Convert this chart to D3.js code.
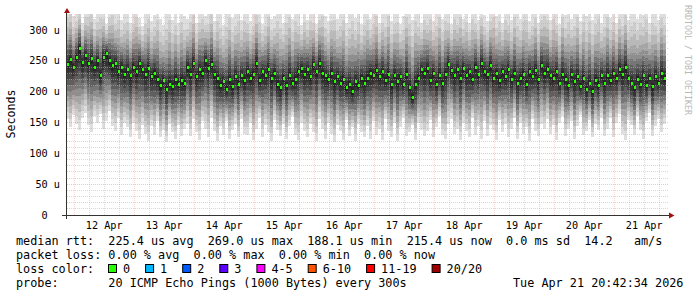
<!DOCTYPE html>
<html>
<head>
<meta charset="utf-8">
<script src="https://cdn.jsdelivr.net/npm/d3@7"></script>
<style>
html, body { margin: 0; padding: 0; background: #fff; }
svg { display: block; }
text { font-family: "DejaVu Sans Mono", monospace; fill: #000; }
</style>
</head>
<body>
<svg id="chart" width="697" height="297"></svg>
<script>
// median rtt per 72 min bin (microseconds)
const median = [
  244,252,240,256,270,248,258,246,254,240,250,226,256,262,250,242,246,232,240,228,
  236,226,240,232,246,236,228,238,224,230,220,210,218,204,212,208,220,212,218,214,
  240,228,246,224,236,230,250,238,244,228,222,210,216,204,220,208,224,212,226,218,
  232,222,228,246,218,232,226,236,222,230,212,206,222,210,226,214,220,232,238,228,
  236,224,244,232,246,230,226,220,230,216,224,214,220,206,212,200,216,210,222,214,
  222,230,226,234,224,232,218,228,212,226,216,224,212,228,206,190,212,222,236,230,
  238,218,230,212,226,214,228,244,234,226,236,222,238,226,232,220,240,228,246,232,
  228,242,222,230,218,232,224,236,220,230,214,222,228,212,232,224,234,220,242,230,
  236,226,222,232,214,228,220,210,228,216,224,208,222,204,214,200,218,210,226,214,
  226,218,230,222,236,228,240,222,214,206,220,212,226,210,222,208,224,214,230,222
];
// slowest ping per bin
const pingMax = [
  338,346,322,330,344,312,336,340,345,318,328,342,334,310,336,344,326,338,316,330,
  332,312,328,344,320,306,330,338,314,324,340,318,308,326,342,316,330,312,336,322,
  318,334,344,312,330,340,322,328,346,314,338,326,308,330,344,320,328,340,316,338,
  330,314,326,344,336,310,326,342,318,322,340,328,312,336,344,318,338,326,308,334,
  316,338,328,310,334,346,322,314,336,342,318,330,340,312,326,344,320,338,310,332,
  340,318,330,344,312,332,326,346,314,330,338,310,322,344,336,316,340,326,312,338,
  326,342,314,330,344,318,336,328,310,340,326,346,318,334,312,342,328,316,338,324,
  314,332,346,322,338,312,340,326,316,344,330,318,336,342,314,328,340,312,334,346,
  336,316,342,328,310,344,324,338,318,330,346,314,336,322,340,316,332,344,312,328,
  344,320,334,312,338,326,346,316,330,340,318,336,324,344,312,338,328,316,342,330
];
// fastest ping per bin
const pingMin = [
  156,142,162,148,138,158,166,146,134,160,150,164,140,152,168,144,136,158,130,150,
  142,126,150,136,124,146,132,120,144,130,152,126,138,118,148,134,124,146,128,140,
  148,128,156,134,122,152,140,126,158,136,120,144,130,152,124,138,148,126,156,132,
  130,150,122,140,158,126,146,134,120,154,138,128,148,124,144,160,130,122,150,136,
  126,148,134,120,156,140,124,150,132,118,146,136,122,154,128,142,120,148,134,126,
  144,124,152,130,140,122,156,136,126,150,120,142,158,128,134,146,122,150,138,128,
  136,154,126,142,160,130,124,148,156,132,140,122,150,136,126,158,130,144,124,152,
  128,146,138,122,154,134,148,126,140,158,124,150,132,142,120,156,136,128,148,140,
  156,132,146,122,150,160,128,140,152,124,144,162,130,136,154,126,148,138,158,128,
  140,158,126,150,164,132,122,154,146,130,160,138,124,152,166,128,144,156,134,148
];

const yTicks = [0, 50, 100, 150, 200, 250, 300];
const dayLabels = ["12 Apr", "13 Apr", "14 Apr", "15 Apr", "16 Apr",
                   "17 Apr", "18 Apr", "19 Apr", "20 Apr", "21 Apr"];
const lossNames = ["0", "1", "2", "3", "4-5", "6-10", "11-19", "20/20"];
const lossColors = ["#26ff00", "#00b8ff", "#0059ff", "#5e00ff", "#ff00ff", "#ff5500", "#ff0000", "#a10000"];
const statLines = [
  "median rtt:  225.4 us avg  269.0 us max  188.1 us min  215.4 us now  0.0 ms sd  14.2   am/s",
  "packet loss: 0.00 % avg  0.00 % max  0.00 % min  0.00 % now",
  "loss color:",
  "probe:       20 ICMP Echo Pings (1000 Bytes) every 300s"
];
const stampText = "Tue Apr 21 20:42:34 2026";

// time range and scales
const start = new Date(Date.UTC(2026, 3, 11, 20, 42, 34));
const end = new Date(Date.UTC(2026, 3, 21, 20, 42, 34));
const step = 72 * 60 * 1000;

const x = d3.scaleUtc().domain([start, end]).range([66, 666]);
const y = d3.scaleLinear().domain([0, 326]).range([215, 14]);

const svg = d3.select("#chart");

svg.append("defs").append("clipPath").attr("id", "plot")
  .append("rect").attr("x", 67).attr("y", 14).attr("width", 600).attr("height", 201);

// smoke: 10 bands per bin, outer light, inner dark
const sUp = [1, 0.8, 0.65, 0.52, 0.42, 0.33, 0.25, 0.17, 0.1, 0.05];
const sDn = [1, 0.88, 0.78, 0.68, 0.58, 0.48, 0.38, 0.28, 0.18, 0.08];
const greys = [222, 205, 185, 165, 142, 118, 95, 72, 52, 36];

const bands = [];
median.forEach((m, i) => {
  const t0 = new Date(start.getTime() + i * step);
  const t1 = new Date(start.getTime() + (i + 1) * step);
  sUp.forEach((s, k) => {
    bands.push({
      t0, t1, k,
      top: m + (pingMax[i] - m) * s,
      bot: m - (m - pingMin[i]) * sDn[k]
    });
  });
});

const g = svg.append("g").attr("clip-path", "url(#plot)");
g.selectAll("rect.smoke")
  .data(bands)
  .enter().append("rect")
  .attr("class", "smoke")
  .attr("x", d => x(d.t0))
  .attr("width", d => x(d.t1) - x(d.t0))
  .attr("y", d => y(d.top))
  .attr("height", d => y(d.bot) - y(d.top))
  .attr("fill", d => d3.rgb(greys[d.k], greys[d.k], greys[d.k]))
  .attr("shape-rendering", "crispEdges");

// median marks
g.selectAll("rect.med")
  .data(median)
  .enter().append("rect")
  .attr("class", "med")
  .attr("x", (d, i) => x(new Date(start.getTime() + i * step)) + 0.5)
  .attr("width", 2)
  .attr("y", d => y(d) - 1.5)
  .attr("height", 3)
  .attr("fill", lossColors[0])
  .attr("shape-rendering", "crispEdges");

// grid on top, semi transparent
const grid = svg.append("g");
const yMinor = d3.range(10, 330, 10).filter(v => v % 50 !== 0);
grid.selectAll("line.ymin").data(yMinor).enter().append("line")
  .attr("x1", 67).attr("x2", 668)
  .attr("y1", d => Math.floor(y(d)) + 0.5).attr("y2", d => Math.floor(y(d)) + 0.5)
  .attr("stroke", "#b8b8b8").attr("stroke-opacity", 0.55).attr("stroke-dasharray", "1,1");

const hours = d3.utcHour.every(6).range(start, end).filter(t => t.getUTCHours() !== 0);
grid.selectAll("line.xmin").data(hours).enter().append("line")
  .attr("x1", d => Math.round(x(d)) + 0.5).attr("x2", d => Math.round(x(d)) + 0.5)
  .attr("y1", 14).attr("y2", 215)
  .attr("stroke", "#b8b8b8").attr("stroke-opacity", 0.5).attr("stroke-dasharray", "1,1");

grid.selectAll("line.ymaj").data(yTicks.filter(v => v > 0)).enter().append("line")
  .attr("x1", 67).attr("x2", 668)
  .attr("y1", d => Math.floor(y(d)) + 0.5).attr("y2", d => Math.floor(y(d)) + 0.5)
  .attr("stroke", "#ff7070").attr("stroke-opacity", 0.45).attr("stroke-dasharray", "1,1");

const days = d3.utcDay.range(start, end);
grid.selectAll("line.xmaj").data(days).enter().append("line")
  .attr("x1", d => Math.round(x(d)) + 0.5).attr("x2", d => Math.round(x(d)) + 0.5)
  .attr("y1", 14).attr("y2", 215)
  .attr("stroke", "#ff7070").attr("stroke-opacity", 0.3).attr("stroke-dasharray", "1,1");

// axes
svg.append("line").attr("x1", 62).attr("x2", 670).attr("y1", 215.5).attr("y2", 215.5)
  .attr("stroke", "#333");
svg.append("line").attr("x1", 66.5).attr("x2", 66.5).attr("y1", 219).attr("y2", 10)
  .attr("stroke", "#333");
svg.append("path").attr("d", "M67,8 L64,13 L70,13 Z").attr("fill", "#a01010");
svg.append("path").attr("d", "M674.5,215.5 L669,212.5 L669,218.5 Z").attr("fill", "#a01010");

// y labels
svg.append("g").selectAll("text").data(yTicks).enter().append("text")
  .attr("x", 60)
  .attr("y", d => Math.floor(y(d)) + 4)
  .attr("text-anchor", "end")
  .attr("xml:space", "preserve")
  .style("white-space", "pre")
  .style("font-size", "10.2px")
  .text(d => d === 0 ? "0  " : d + " u");

// x labels at noon
svg.append("g").selectAll("text").data(days).enter().append("text")
  .attr("x", d => x(d3.utcHour.offset(d, 12)))
  .attr("y", 229)
  .attr("text-anchor", "middle")
  .style("font-size", "10.2px")
  .text((d, i) => dayLabels[i]);

// axis title
svg.append("text")
  .attr("transform", "translate(15,114) rotate(-90)")
  .attr("text-anchor", "middle")
  .style("font-size", "11.6px")
  .text("Seconds");

// watermark
svg.append("text")
  .attr("transform", "translate(685,5) rotate(90)")
  .style("font-size", "8.3px")
  .style("fill", "#b8b8b8")
  .text("RRDTOOL / TOBI OETIKER");

// legend
const cw = 7.1;
svg.append("g").selectAll("text").data(statLines).enter().append("text")
  .attr("x", 16)
  .attr("y", (d, i) => 244.5 + i * 14)
  .attr("xml:space", "preserve")
  .style("white-space", "pre")
  .style("font-size", "11.8px")
  .text(d => d);

svg.append("text")
  .attr("x", 16 + 70 * cw)
  .attr("y", 244.5 + 3 * 14)
  .style("font-size", "11.8px")
  .text(stampText);

let bx = 108;
const lossG = svg.append("g");
lossNames.forEach((name, i) => {
  lossG.append("rect")
    .attr("x", bx + 0.5).attr("y", 264.5)
    .attr("width", 8).attr("height", 8)
    .attr("fill", lossColors[i]).attr("stroke", "#000");
  lossG.append("text")
    .attr("x", bx + 15).attr("y", 272.5)
    .style("font-size", "11.8px")
    .text(name);
  bx = bx + 15 + name.length * cw + 15;
});
</script>
</body>
</html>
